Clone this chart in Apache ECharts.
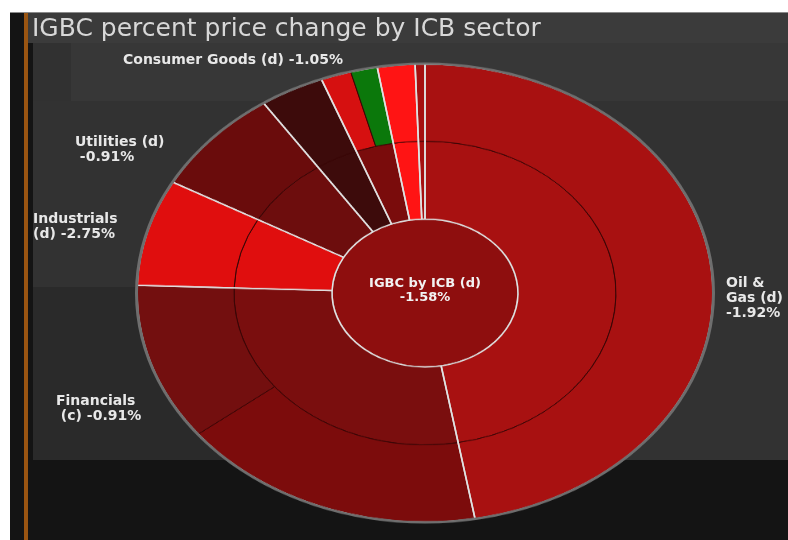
<!DOCTYPE html>
<html>
<head>
<meta charset="utf-8">
<script src="https://cdn.jsdelivr.net/npm/echarts@6/dist/echarts.min.js"></script>
<style>
  html, body { margin:0; padding:0; background:#ffffff; }
  #wrap { position:relative; width:788px; height:540px; overflow:hidden; }
  .layer { position:absolute; left:0; top:0; }
</style>
</head>
<body>
<div id="wrap">
  <div id="bg" class="layer" style="width:788px;height:540px;"></div>
  <div id="sb" class="layer" style="width:788px;height:679px;transform:scaleY(0.795);transform-origin:0 0;"></div>
  <div id="fg" class="layer" style="width:788px;height:540px;pointer-events:none;"></div>
</div>
<script>
// ---------------- data ----------------
const chartTitle = 'IGBC percent price change by ICB sector';
const indexName = 'IGBC by ICB';
const indexCode = 'd';
const indexChange = -1.58;

const sectors = ['Oil & Gas', 'Financials', 'Industrials', 'Utilities', 'Telecommunications', 'Consumer Goods', 'Consumer Services', 'Basic Materials'];
const sectorCodes = ['d', 'c', 'd', 'd', '', 'd', '', ''];
const sectorChanges = [-1.92, -0.91, -2.75, -0.91, null, -1.05, null, null];

const subsectorNames = [
  ['Oil & Gas Producers'],
  ['Banks', 'Financial Services'],
  ['Industrial Goods & Services'],
  ['Utilities'],
  ['Telecommunications'],
  ['Personal & Household Goods', 'Food & Beverage'],
  ['Retail'],
  ['Chemicals']
];
const subsectorWeights = [
  [47.2],
  [17.2, 11.1],
  [7.5],
  [7.5],
  [3.6],
  [1.7, 1.5],
  [2.1],
  [0.55]
];

// ---------------- styles ----------------
const sectorColors = ['#a81111', '#7a0e0e', '#e00e0e', '#6d0d0d', '#3d0b0b', '#7a0c0c', '#ff1414', '#a51010'];
const subsectorColors = [
  ['#a81111'],
  ['#7c0c0c', '#730f0f'],
  ['#e00e0e'],
  ['#6a0c0c'],
  ['#3d0b0b'],
  ['#d61010', '#0b780b'],
  ['#ff1414'],
  ['#a51010']
];
const centerColor = '#8e0e0e';

const fmt = v => v.toFixed(2) + '%';

const labelLayout = {
  'Consumer Goods': { x: 123, y: 60, lines: (n, c, v) => [`${n} (${c}) ${fmt(v)}`] },
  'Utilities':      { x: 75,  y: 142, lines: (n, c, v) => [`${n} (${c})`, ` ${fmt(v)}`] },
  'Industrials':    { x: 33,  y: 219, lines: (n, c, v) => [n, `(${c}) ${fmt(v)}`] },
  'Financials':     { x: 56,  y: 401, lines: (n, c, v) => [n, ` (${c}) ${fmt(v)}`] },
  'Oil & Gas':      { x: 726, y: 283, lines: (n, c, v) => { const w = n.split(' '); return [w.slice(0, 2).join(' '), `${w.slice(2).join(' ')} (${c})`, fmt(v)]; } }
};

// ---------------- geometry (pixels, circle space before vertical squash) ----------------
const CX = 425, CY = 368.6;
const R0 = 93, R1 = 191, R2 = 288;

// ---------------- background chart ----------------
const bg = echarts.init(document.getElementById('bg'), null, { renderer: 'canvas' });
bg.setOption({
  animation: false,
  graphic: [
    { type: 'rect', shape: { x: 10, y: 12, width: 778, height: 528 }, style: { fill: '#141414' } },
    { type: 'rect', shape: { x: 10, y: 12, width: 778, height: 1 }, style: { fill: '#8a8a8a' } },
    { type: 'rect', shape: { x: 24, y: 13, width: 4, height: 527 }, style: { fill: '#9a5512' } },
    { type: 'rect', shape: { x: 28, y: 13, width: 760, height: 30 }, style: { fill: '#3b3b3b' } },
    { type: 'rect', shape: { x: 33, y: 43, width: 755, height: 417 }, style: { fill: '#323232' } },
    { type: 'rect', shape: { x: 71, y: 43, width: 717, height: 58 }, style: { fill: '#373737' } },
    { type: 'rect', shape: { x: 33, y: 43, width: 38, height: 58 }, style: { fill: '#313131' } },
    { type: 'rect', shape: { x: 33, y: 287, width: 400, height: 173 }, style: { fill: '#2a2a2a' } }
  ]
});

// ---------------- sunburst chart ----------------
const tree = [{
  name: indexName,
  itemStyle: { color: centerColor, borderColor: '#d8d8d8', borderWidth: 1.5 },
  children: sectors.map((s, i) => ({
    name: s,
    itemStyle: { color: sectorColors[i] },
    children: subsectorNames[i].map((sn, j) => ({
      name: sn,
      value: subsectorWeights[i][j],
      itemStyle: { color: subsectorColors[i][j] }
    }))
  }))
}];

const outline = sectors.map((s, i) => ({
  name: s,
  value: subsectorWeights[i].reduce((a, b) => a + b, 0)
}));

const sb = echarts.init(document.getElementById('sb'), null, { renderer: 'canvas' });
sb.setOption({
  animation: false,
  series: [
    {
      type: 'sunburst',
      center: [CX, CY],
      radius: [0, R2],
      sort: null,
      nodeClick: false,
      silent: true,
      emphasis: { disabled: true },
      label: { show: false },
      itemStyle: { borderColor: '#3a0606', borderWidth: 1 },
      levels: [
        {},
        { r0: 0, r: R0, itemStyle: { borderColor: '#d8d8d8', borderWidth: 1.5 } },
        { r0: R0, r: R1, itemStyle: { borderColor: '#3a0606', borderWidth: 1 } },
        { r0: R1, r: R2, itemStyle: { borderColor: '#3a0606', borderWidth: 1 } }
      ],
      data: tree
    },
    {
      type: 'sunburst',
      center: [CX, CY],
      radius: [R0, R2],
      sort: null,
      nodeClick: false,
      silent: true,
      emphasis: { disabled: true },
      label: { show: false },
      itemStyle: { color: 'rgba(0,0,0,0)', borderColor: '#e2e2e2', borderWidth: 1.6 },
      levels: [
        {},
        { r0: R0, r: R2, itemStyle: { color: 'rgba(0,0,0,0)', borderColor: '#e2e2e2', borderWidth: 1.6 } }
      ],
      data: outline
    },
    {
      type: 'pie',
      center: [CX, CY],
      radius: [R2 - 1, R2 + 2],
      silent: true,
      label: { show: false },
      labelLine: { show: false },
      emphasis: { disabled: true },
      itemStyle: { color: '#6e6e6e', borderWidth: 0 },
      data: [{ name: 'outline', value: 1 }]
    }
  ]
});

// ---------------- foreground text ----------------
const LABEL_FONT = 'bold 14px "DejaVu Sans", sans-serif';
const texts = [
  { type: 'text', x: 32, y: 29, style: { text: chartTitle, font: '25px "DejaVu Sans", sans-serif', fill: '#d8d8d8', verticalAlign: 'middle', align: 'left' } },
  { type: 'text', x: CX, y: 291, style: { text: `${indexName} (${indexCode})\n${fmt(indexChange)}`, font: 'bold 13px "DejaVu Sans", sans-serif', fill: '#f2f2f2', align: 'center', verticalAlign: 'middle', lineHeight: 14 } }
];
sectors.forEach((s, i) => {
  const L = labelLayout[s];
  if (!L || sectorChanges[i] === null) return;
  const lines = L.lines(s, sectorCodes[i], sectorChanges[i]);
  texts.push({
    type: 'text', x: L.x, y: L.y - 7.5,
    style: { text: lines.join('\n'), font: LABEL_FONT, fill: '#e8e8e8', align: 'left', verticalAlign: 'top', lineHeight: 15 }
  });
});
const fg = echarts.init(document.getElementById('fg'), null, { renderer: 'canvas' });
fg.setOption({ animation: false, graphic: texts });
</script>
</body>
</html>
